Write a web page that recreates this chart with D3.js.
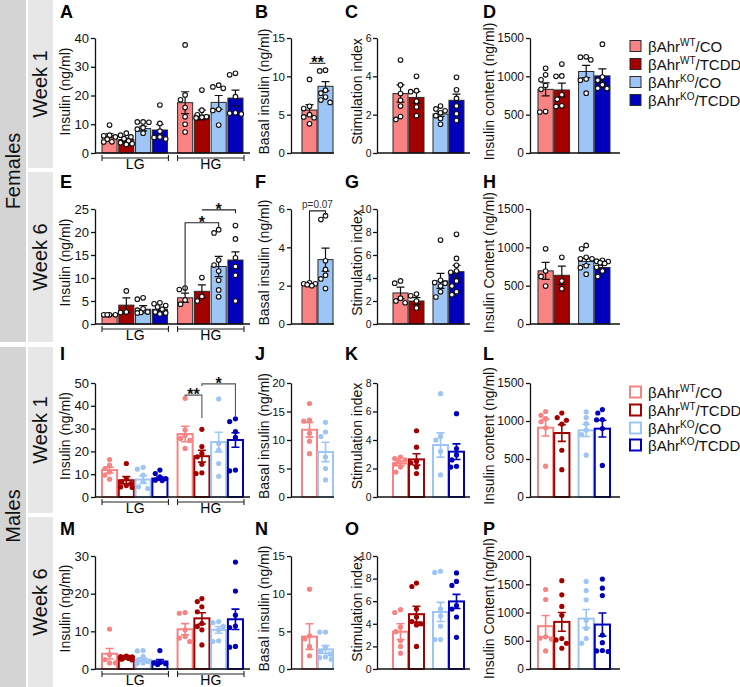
<!DOCTYPE html>
<html>
<head>
<meta charset="utf-8">
<script src="https://cdn.jsdelivr.net/npm/d3@7"></script>
<style>
  body { margin: 0; background: #fff; }
  svg { font-family: "Liberation Sans", Arial, sans-serif; }
</style>
</head>
<body>
<svg id="fig" width="740" height="687"></svg>
<script>
// groups, legend pieces, colours
const groupSup = ["WT", "WT", "KO", "KO"];
const groupTail = ["/CO", "/TCDD", "/CO", "/TCDD"];
const colors = ["#f98282", "#a30000", "#9dc5f6", "#0000bd"];
const glucose = ["LG", "HG"];

// Females, week 1
const meanA = [6.0, 4.7, 8.5, 8.0, 17.5, 13.2, 17.6, 19.1];
const semA = [0.7, 0.5, 0.8, 2.0, 3.8, 1.7, 2.4, 2.8];
const dotsA = [[9.7, 6.2, 6.0, 5.6, 4.8, 3.9, 3.8], [6.9, 6.2, 5.6, 5.0, 4.2, 3.6, 3.2, 3.0],
  [10.8, 10.8, 10.7, 8.8, 8.3, 6.9], [16.7, 10.3, 7.6, 5.6, 5.4, 4.9],
  [37.6, 20.2, 18.5, 15.8, 12.6, 10.0, 7.3], [21.9, 14.9, 13.3, 12.6, 12.4, 12.2],
  [23.6, 23.0, 22.5, 15.2, 14.8, 9.7], [27.7, 27.2, 19.6, 14.0, 13.8, 13.6]];
const meanB = [5.6, 8.7];
const semB = [0.7, 0.6];
const dotsB = [[9.6, 6.1, 5.8, 5.0, 4.7, 4.6, 3.8], [10.8, 10.7, 8.2, 7.8, 7.3, 6.9, 6.6]];
const meanC = [3.1, 2.9, 2.03, 2.75];
const semC = [0.45, 0.3, 0.12, 0.32];
const dotsC = [[4.85, 3.55, 3.1, 2.75, 2.45, 1.9, 1.75], [4.0, 3.25, 3.2, 2.7, 2.4, 1.95],
  [2.45, 2.3, 2.2, 2.1, 1.95, 1.8, 1.5], [3.95, 3.3, 2.85, 2.45, 2.05, 1.7]];
const meanD = [830, 822, 1063, 1006];
const semD = [85, 90, 80, 90];
const dotsD = [[1105, 1020, 955, 880, 830, 540, 535], [1160, 1005, 1000, 760, 700, 615, 605],
  [1255, 1250, 1215, 965, 950, 780], [1420, 990, 950, 890, 845, 840]];

// Females, week 6
const meanE = [1.95, 4.1, 3.2, 3.2, 5.7, 7.1, 12.5, 13.9];
const semE = [0.1, 1.6, 0.8, 0.4, 1.0, 1.4, 2.2, 1.8];
const dotsE = [[2.0, 2.0, 2.0, 2.0], [7.2, 2.6, 2.5], [5.7, 5.4, 3.3, 3.0, 2.6, 2.5, 2.4],
  [4.6, 4.4, 4.0, 3.7, 3.2, 2.6, 2.4, 2.2], [7.8, 7.5, 5.2, 4.3], [10.1, 6.0, 5.0],
  [20.5, 19.8, 13.9, 12.8, 11.5, 9.5, 7.4, 5.9], [21.4, 18.5, 14.4, 12.5, 10.6, 5.0]];
const meanF = [2.02, 3.36];
const semF = [0.05, 0.6];
const dotsF = [[2.15, 2.1, 2.1, 2.05, 2.0], [5.65, 5.45, 3.3, 2.85, 2.55, 2.35, 1.85]];
const meanG = [2.7, 2.0, 3.75, 4.55];
const semG = [0.5, 0.3, 0.65, 0.55];
const dotsG = [[3.75, 3.55, 2.25, 2.0, 1.85], [2.6, 2.45, 2.0, 1.4],
  [7.3, 3.8, 3.6, 3.55, 3.3, 2.8, 2.35], [7.8, 5.7, 5.1, 4.6, 4.5, 3.75, 3.3, 2.8, 2.55]];
const meanH = [693, 635, 816, 737];
const semH = [110, 120, 40, 30];
const dotsH = [[980, 690, 620, 495], [870, 560, 460],
  [1025, 980, 870, 850, 850, 760, 735, 650], [830, 820, 815, 800, 790, 740, 690, 620]];

// Males, week 1
const meanI = [11.8, 7.35, 7.65, 8.1, 27.6, 17.9, 24.1, 25.0];
const semI = [1.3, 1.6, 1.7, 0.7, 3.4, 2.6, 4.3, 3.2];
const dotsI = [[16.4, 14.0, 12.5, 11.0, 9.6, 7.8], [14.7, 8.1, 6.6, 5.9, 5.0, 4.4, 4.2],
  [13.0, 12.2, 9.6, 6.8, 4.5, 3.7], [11.8, 10.3, 8.8, 8.1, 7.4, 7.2],
  [43.3, 29.4, 27.0, 25.7, 24.8, 21.3], [29.7, 22.1, 19.1, 17.6, 14.4, 10.6, 10.3],
  [43.0, 23.5, 20.6, 14.7, 9.1], [34.3, 33.1, 28.7, 26.2, 11.8, 11.5]];
const meanJ = [11.8, 7.9];
const semJ = [1.3, 1.7];
const dotsJ = [[16.4, 13.5, 13.3, 11.2, 9.8, 7.6], [13.1, 11.4, 10.6, 7.0, 5.0, 3.0]];
const meanK = [2.35, 2.64, 3.65, 3.18];
const semK = [0.15, 0.4, 0.85, 0.55];
const dotsK = [[2.8, 2.7, 2.6, 2.55, 2.3, 2.1, 1.75], [4.65, 3.5, 2.5, 2.4, 2.1, 1.65],
  [7.25, 4.25, 4.0, 3.2, 1.55], [5.85, 3.4, 2.95, 2.6, 2.15, 2.1]];
const meanL = [912, 842, 877, 899];
const semL = [110, 110, 80, 110];
const dotsL = [[1125, 1075, 1030, 990, 910, 405], [1105, 1045, 1010, 960, 615, 360],
  [1120, 1045, 965, 880, 820, 550], [1150, 1105, 1020, 1015, 900, 415]];

// Males, week 6
const meanM = [4.05, 3.2, 2.5, 2.0, 10.55, 13.45, 10.4, 13.2];
const semM = [1.4, 0.35, 0.45, 0.5, 1.5, 1.5, 0.9, 2.7];
const dotsM = [[10.6, 3.8, 2.5, 1.6, 1.6], [3.4, 3.3, 3.2, 3.0, 2.8, 2.6, 2.4],
  [4.9, 4.8, 3.3, 2.5, 2.0, 1.6, 1.5], [4.9, 1.7, 1.6, 1.4, 1.2],
  [15.0, 14.8, 10.4, 8.6, 8.2, 7.3], [18.7, 17.9, 16.5, 15.2, 12.1, 11.3, 10.4, 6.4],
  [12.6, 12.3, 11.3, 10.4, 7.5, 7.3], [28.4, 20.7, 14.3, 11.4, 11.0, 6.0, 5.8]];
const meanN = [4.3, 2.6];
const semN = [1.7, 0.5];
const dotsN = [[10.6, 4.4, 4.0, 3.0, 1.75], [4.9, 4.9, 2.9, 2.3, 2.0, 1.6, 1.5, 1.3]];
const meanO = [3.3, 4.85, 5.05, 5.98];
const semO = [0.7, 0.7, 0.85, 0.62];
const dotsO = [[5.25, 5.0, 3.7, 3.3, 2.5, 2.0, 1.4], [7.6, 7.3, 5.3, 4.6, 4.2, 4.0, 3.9, 2.0],
  [8.65, 8.55, 5.3, 4.7, 3.8, 2.6, 2.6], [8.5, 7.75, 7.4, 5.6, 5.3, 4.6, 2.8]];
const meanP = [758, 834, 892, 787];
const semP = [190, 165, 160, 205];
const dotsP = [[1405, 1230, 570, 545, 530, 320], [1563, 1312, 1108, 950, 540, 515, 455, 367],
  [1550, 1388, 1225, 865, 717, 540, 455], [1592, 1430, 1300, 600, 466, 327, 320, 310]];

// significance brackets (bar index a -> b, heights in data units)
const sigB = [{ a: 0, b: 1, top: 11.7, ya: 11.7, yb: 11.7, text: "**" }];
const sigE = [{ a: 4, b: 6, top: 22, ya: 6.3, yb: 20.9, text: "*" },
  { a: 5, b: 7, top: 24.8, ya: 24.8, yb: 24.1, text: "*" }];
const sigF = [{ a: 0, b: 1, top: 5.9, ya: 2.3, yb: 5.7, text: "p=0.07" }];
const sigI = [{ a: 4, b: 5, top: 44.7, ya: 44.2, yb: 34.6, text: "**" },
  { a: 5, b: 7, top: 49.6, ya: 48.7, yb: 35.5, text: "*" }];

const rows = [
  { top: 38, bottom: 153, letterY: 18 },
  { top: 209, bottom: 324, letterY: 188 },
  { top: 383, bottom: 497, letterY: 360 },
  { top: 556, bottom: 669, letterY: 535 }
];
const cols = [
  { kind: "glu", axisX: 95, xEnd: 250, from: 102, to: 243, labelX: 65, letterX: 60, tickFont: 13, pad: 2 },
  { kind: "pair", axisX: 291, xEnd: 334, from: 302, to: 333, labelX: 264, letterX: 255, tickFont: 11.5, pad: 2 },
  { kind: "quad", axisX: 377, xEnd: 470, from: 393, to: 464, labelX: 357, letterX: 345, tickFont: 10.5, pad: 1.5 },
  { kind: "quad", axisX: 530, xEnd: 620, from: 538, to: 610, labelX: 489, letterX: 483, tickFont: 12, pad: 2 }
];

const panels = [
  { id: "A", row: 0, col: 0, max: 40, step: 10, label: "Insulin (ng/ml)", mean: meanA, sem: semA, dots: dotsA },
  { id: "B", row: 0, col: 1, max: 15, step: 5, label: "Basal insulin (ng/ml)", mean: meanB, sem: semB, dots: dotsB, sig: sigB },
  { id: "C", row: 0, col: 2, max: 6, step: 2, label: "Stimulation index", mean: meanC, sem: semC, dots: dotsC },
  { id: "D", row: 0, col: 3, max: 1500, step: 500, label: "Insulin content (ng/ml)", mean: meanD, sem: semD, dots: dotsD },
  { id: "E", row: 1, col: 0, max: 25, step: 5, label: "Insulin (ng/ml)", mean: meanE, sem: semE, dots: dotsE, sig: sigE },
  { id: "F", row: 1, col: 1, max: 6, step: 2, label: "Basal insulin (ng/ml)", mean: meanF, sem: semF, dots: dotsF, sig: sigF },
  { id: "G", row: 1, col: 2, max: 10, step: 2, label: "Stimulation index", mean: meanG, sem: semG, dots: dotsG },
  { id: "H", row: 1, col: 3, max: 1500, step: 500, label: "Insulin Content (ng/ml)", mean: meanH, sem: semH, dots: dotsH },
  { id: "I", row: 2, col: 0, max: 50, step: 10, label: "Insulin (ng/ml)", mean: meanI, sem: semI, dots: dotsI, sig: sigI, male: true },
  { id: "J", row: 2, col: 1, max: 20, step: 5, label: "Basal insulin (ng/ml)", mean: meanJ, sem: semJ, dots: dotsJ, male: true },
  { id: "K", row: 2, col: 2, max: 8, step: 2, label: "Stimulation index", mean: meanK, sem: semK, dots: dotsK, male: true },
  { id: "L", row: 2, col: 3, max: 1500, step: 500, label: "Insulin content (ng/ml)", mean: meanL, sem: semL, dots: dotsL, male: true },
  { id: "M", row: 3, col: 0, max: 30, step: 10, label: "Insulin (ng/ml)", mean: meanM, sem: semM, dots: dotsM, male: true },
  { id: "N", row: 3, col: 1, max: 15, step: 5, label: "Basal insulin (ng/ml)", mean: meanN, sem: semN, dots: dotsN, male: true },
  { id: "O", row: 3, col: 2, max: 10, step: 2, label: "Stimulation index", mean: meanO, sem: semO, dots: dotsO, male: true },
  { id: "P", row: 3, col: 3, max: 2000, step: 500, label: "Insulin Content (ng/ml)", mean: meanP, sem: semP, dots: dotsP, male: true }
];

const svg = d3.select("#fig");

function sideBands() {
  const dark = "#d4d4d4", light = "#e7e7e7";
  [[0, 342], [347, 340]].forEach(([y, h]) =>
    svg.append("rect").attr("x", 0).attr("y", y).attr("width", 26).attr("height", h).attr("fill", dark));
  [[0, 168], [172, 170], [347, 166], [517, 170]].forEach(([y, h]) =>
    svg.append("rect").attr("x", 28).attr("y", y).attr("width", 25).attr("height", h).attr("fill", light));
  const vtext = (x, y, t) => svg.append("text")
    .attr("transform", `translate(${x},${y}) rotate(-90)`)
    .attr("text-anchor", "middle").attr("dy", "0.35em")
    .attr("font-size", 20).attr("fill", "#111").text(t);
  vtext(13, 171, "Females");
  vtext(13, 516, "Males");
  vtext(40, 84, "Week 1");
  vtext(40, 257, "Week 6");
  vtext(40, 430, "Week 1");
  vtext(40, 602, "Week 6");
}

// x position, width and colour index of every bar
function barLayout(col, n) {
  if (col.kind === "glu") {
    const x0 = d3.scaleBand().domain(glucose).range([col.from, col.to]).paddingInner(0.134);
    const x1 = d3.scaleBand().domain(d3.range(4)).range([0, x0.bandwidth()]).paddingInner(0.1);
    return {
      bars: d3.range(n).map(i => ({ x: x0(glucose[Math.floor(i / 4)]) + x1(i % 4), w: x1.bandwidth(), g: i % 4 })),
      x0
    };
  }
  if (col.kind === "pair") {
    const x = d3.scaleBand().domain([0, 1]).range([col.from, col.to]).paddingInner(0.06);
    return { bars: d3.range(n).map(i => ({ x: x(i), w: x.bandwidth(), g: [0, 2][i] })) };
  }
  const x0 = d3.scaleBand().domain(["WT", "KO"]).range([col.from, col.to]).paddingInner(0.225);
  const x1 = d3.scaleBand().domain([0, 1]).range([0, x0.bandwidth()]).paddingInner(0.06);
  return { bars: d3.range(n).map(i => ({ x: x0(i < 2 ? "WT" : "KO") + x1(i % 2), w: x1.bandwidth(), g: i })) };
}

// spread points sideways so they do not sit on top of each other
function swarm(vals, y, cx, r) {
  const order = vals.map((v, i) => i).sort((a, b) => vals[b] - vals[a]);
  const offs = [0, -4.6, 4.6, -2.3, 2.3, -5.8, 5.8];
  const placed = [];
  order.forEach(i => {
    const py = y(vals[i]);
    let best = 0, bestD = -1;
    for (const o of offs) {
      const d = placed.length ? d3.min(placed, q => Math.hypot(q.x - (cx + o), q.y - py)) : Infinity;
      if (d >= 2 * r + 0.2) { best = o; break; }
      if (d > bestD) { bestD = d; best = o; }
    }
    placed.push({ x: cx + best, y: py });
  });
  return placed;
}

function drawPanel(p) {
  const row = rows[p.row], col = cols[p.col];
  const y = d3.scaleLinear().domain([0, p.max]).range([row.bottom, row.top]);
  const lay = barLayout(col, p.mean.length);
  const g = svg.append("g");

  g.selectAll("rect.bar").data(lay.bars).join("rect")
    .attr("x", d => d.x).attr("width", d => d.w)
    .attr("y", (d, i) => y(p.mean[i]))
    .attr("height", (d, i) => row.bottom - y(p.mean[i]))
    .attr("fill", d => p.male ? "#fff" : colors[d.g])
    .attr("stroke", d => p.male ? colors[d.g] : "#2a2a2a")
    .attr("stroke-width", p.male ? 2 : 1);

  lay.bars.forEach((b, i) => {
    const cx = b.x + b.w / 2;
    const lo = y(p.mean[i] - p.sem[i]), hi = y(p.mean[i] + p.sem[i]);
    const c = p.male ? colors[b.g] : "#111";
    const sw = p.male ? 1.6 : 1.2;
    g.append("path")
      .attr("d", `M${cx},${lo}V${hi}M${cx - 4},${hi}H${cx + 4}M${cx - 4},${lo}H${cx + 4}`)
      .attr("stroke", c).attr("stroke-width", sw).attr("fill", "none");

    const pts = swarm(p.dots[i], y, cx, 2.6);
    g.selectAll(null).data(pts).join("circle")
      .attr("cx", d => d.x).attr("cy", d => d.y)
      .attr("r", p.male ? 2.6 : 2.3)
      .attr("fill", p.male ? colors[b.g] : "#fff")
      .attr("stroke", p.male ? "none" : "#111")
      .attr("stroke-width", 1.1);
  });

  // y axis
  const ax = g.append("g")
    .attr("transform", `translate(${col.axisX},0)`)
    .call(d3.axisLeft(y).tickValues(d3.range(0, p.max + p.step / 2, p.step))
      .tickSize(4).tickSizeOuter(0).tickPadding(col.pad).tickFormat(d3.format("d")));
  ax.attr("font-family", null).attr("font-size", col.tickFont);
  ax.selectAll("path, line").attr("stroke", "#111").attr("stroke-width", 1.3);
  ax.selectAll("text").attr("fill", "#111");

  // x axis line
  g.append("line").attr("x1", col.axisX).attr("x2", col.xEnd)
    .attr("y1", row.bottom).attr("y2", row.bottom)
    .attr("stroke", "#111").attr("stroke-width", 1.3);

  if (col.kind === "glu") {
    const by = row.bottom + 5;
    glucose.forEach(k => {
      const x1 = lay.x0(k), x2 = lay.x0(k) + lay.x0.bandwidth() + 1;
      g.append("path").attr("d", `M${x1},${by - 3}V${by + 3}M${x1},${by}H${x2}M${x2},${by - 3}V${by + 3}`)
        .attr("stroke", "#222").attr("stroke-width", 1.1).attr("fill", "none");
      g.append("text").attr("x", (x1 + x2) / 2).attr("y", row.bottom + 16)
        .attr("text-anchor", "middle").attr("font-size", 14).text(k);
    });
  }

  g.append("text").attr("x", col.letterX).attr("y", row.letterY)
    .attr("font-size", 18).attr("font-weight", "bold").text(p.id);

  g.append("text")
    .attr("transform", `translate(${col.labelX},${(row.top + row.bottom) / 2 - 4}) rotate(-90)`)
    .attr("text-anchor", "middle").attr("dy", "0.35em")
    .attr("font-size", 14).attr("fill", "#111").text(p.label);

  (p.sig || []).forEach(s => {
    const xa = lay.bars[s.a].x + lay.bars[s.a].w / 2;
    const xb = lay.bars[s.b].x + lay.bars[s.b].w / 2;
    const ty = y(s.top);
    g.append("path").attr("d", `M${xa},${y(s.ya)}V${ty}H${xb}V${y(s.yb)}`)
      .attr("stroke", p.male ? "#555" : "#222").attr("stroke-width", 1.1).attr("fill", "none");
    const small = s.text.startsWith("p");
    g.append("text").attr("x", (xa + xb) / 2)
      .attr("y", small ? ty - 3 : ty + 5)
      .attr("text-anchor", "middle")
      .attr("font-size", small ? 10 : 16)
      .attr("font-weight", small ? "normal" : "bold")
      .attr("fill", small ? "#333" : "#111")
      .text(s.text);
  });
}

function legend(centers, male) {
  centers.forEach((cy, i) => {
    svg.append("rect").attr("x", 630).attr("y", cy - 5.5).attr("width", 11).attr("height", 11)
      .attr("fill", male ? "#fff" : colors[i])
      .attr("stroke", male ? colors[i] : "#2a2a2a")
      .attr("stroke-width", male ? 2 : 1);
    const t = svg.append("text").attr("x", 648).attr("y", cy + 5.5).attr("font-size", 15).attr("fill", "#111");
    t.append("tspan").text("βAhr");
    t.append("tspan").attr("font-size", 10).attr("dy", -6).text(groupSup[i]);
    t.append("tspan").attr("dy", 6).text(groupTail[i]);
  });
}

sideBands();
panels.forEach(drawPanel);
legend([46, 64, 82, 100], false);
legend([392, 410, 428, 445], true);
</script>
</body>
</html>
